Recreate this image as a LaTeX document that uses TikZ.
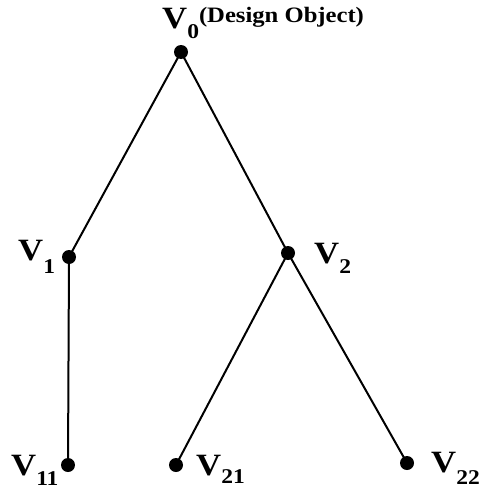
\documentclass[tikz,border=0pt]{standalone}
\usepackage{fontspec}
\setmainfont[FakeStretch=1.12]{Liberation Serif}
\newcommand{\bigV}{{\fontsize{31}{31}\selectfont\bfseries V}}
\newcommand{\subx}[2]{\raisebox{#1}{\fontsize{21}{21}\selectfont\bfseries #2}}
\begin{document}
\begin{tikzpicture}[x=1pt,y=-1pt,
  vdot/.style={circle,fill=black,inner sep=0pt,minimum size=14pt},
  edge/.style={line width=2pt},
  lab/.style={inner sep=0pt,anchor=base west}]
\useasboundingbox (0,0) rectangle (485,490);
\node[vdot] (v0) at (181,52) {};
\node[vdot] (v1) at (69,257) {};
\node[vdot] (v2) at (288,253) {};
\node[vdot] (v11) at (68,465) {};
\node[vdot] (v21) at (176,465) {};
\node[vdot] (v22) at (407,463) {};
\draw[edge] (v0.center) -- (v1.center);
\draw[edge] (v0.center) -- (v2.center);
\draw[edge] (v1.center) -- (v11.center);
\draw[edge] (v2.center) -- (v21.center);
\draw[edge] (v2.center) -- (v22.center);
\node[lab] (l0) at (162,28) {\bigV\subx{-10pt}{0}\raisebox{6pt}{\fontsize{22}{22}\selectfont\bfseries (Design Object)}};
\node[lab] (l1) at (18,260) {\bigV\subx{-13pt}{1}};
\node[lab] (l2) at (314,263) {\bigV\subx{-10pt}{2}};
\node[lab] (l11) at (11,475) {\bigV\subx{-10pt}{11}};
\node[lab] (l21) at (196,475) {\bigV\subx{-8pt}{21}};
\node[lab] (l22) at (431,472) {\bigV\subx{-12pt}{22}};
\end{tikzpicture}
\end{document}
